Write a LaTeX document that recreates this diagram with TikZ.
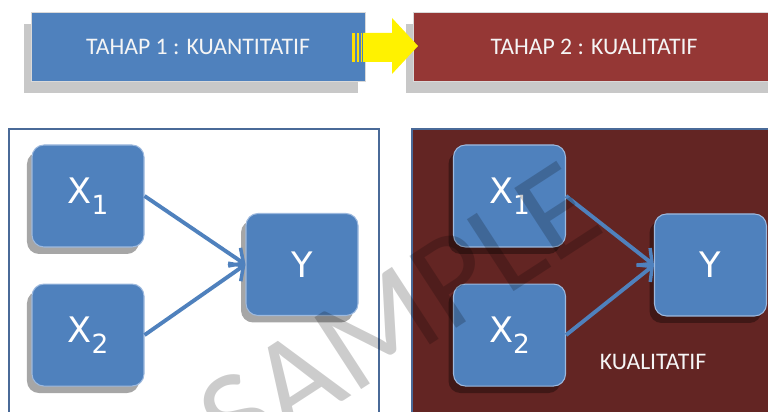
\documentclass[tikz,border=0pt]{standalone}
\usepackage{fontspec}
\setmainfont{Carlito}
\newfontfamily\labelfont{DejaVu Sans}
\usetikzlibrary{positioning}
\usetikzlibrary{shadows, arrows.meta}

\definecolor{boxblue}{HTML}{4F81BD}
\definecolor{boxedge}{HTML}{9DB9DE}
\definecolor{stagered}{HTML}{953735}
\definecolor{panelred}{HTML}{632523}
\definecolor{panelline}{HTML}{4A6A98}

\newcommand{\varsub}[1]{\raisebox{-0.3em}{\fontsize{15}{15}\selectfont #1}}

\tikzset{
  stagebox/.style={rectangle,minimum height=1.38cm,text=white!92!gray,font=\fontsize{13.5}{13.5}\selectfont,
    draw=white!70!gray,line width=0.4pt,drop shadow={shadow xshift=-0.14cm,shadow yshift=-0.24cm,opacity=0.3,fill=black!70}},
  varbox/.style={rectangle,rounded corners=0.24cm,fill=boxblue,draw=boxedge,line width=0.6pt,
    minimum width=2.24cm,minimum height=2.04cm,text=white,font=\labelfont\fontsize{20}{20}\selectfont,
    drop shadow={shadow xshift=-0.1cm,shadow yshift=-0.14cm,opacity=0.35,fill=black}},
  link/.style={boxblue,line width=2.2pt,-{Straight Barb[length=0.22cm,width=0.44cm,line width=2pt]}},
  panel/.style={draw=panelline,line width=1.1pt}
}

\begin{document}
\begin{tikzpicture}
\clip (0,0) rectangle (15.36,8.24);
\fill[white] (0,0) rectangle (15.36,8.24);

% two stages
\node[stagebox,fill=boxblue,minimum width=6.68cm] (tahap1) at (3.96,7.31) {TAHAP 1 : KUANTITATIF};
\node[stagebox,fill=stagered,minimum width=7.24cm] (tahap2) at (11.88,7.31) {TAHAP 2 : KUALITATIF};
\fill[yellow] (7.26,7.00) -- (7.84,7.00) -- (7.84,6.76) -- (8.36,7.32) -- (7.84,7.88) -- (7.84,7.58) -- (7.26,7.58) -- cycle;
\fill[yellow!80!orange] (7.04,7.00) rectangle (7.10,7.58);
\fill[yellow!80!orange] (7.14,7.00) rectangle (7.18,7.58);
\fill[yellow!80!orange] (7.21,7.00) rectangle (7.24,7.58);

% panels
\draw[panel,fill=white] (0.18,-0.2) rectangle (7.58,5.66);
\draw[panel,fill=panelred] (8.24,-0.2) rectangle (15.6,5.66);

% quantitative model
\node[varbox] (xa) at (1.76,4.32) {X\varsub{1}};
\node[varbox,below=0.72cm of xa] (xb) {X\varsub{2}};
\node[varbox] (ya) at (6.04,2.95) {Y};
\draw[link] (xa.east) -- (ya.west);
\draw[link] (xb.east) -- (ya.west);

% qualitative model
\node[varbox] (xc) at (10.19,4.32) {X\varsub{1}};
\node[varbox,below=0.72cm of xc] (xd) {X\varsub{2}};
\node[varbox] (yb) at (14.21,2.94) {Y};
\draw[link] (xc.east) -- (yb.west);
\draw[link] (xd.east) -- (yb.west);
\node[text=white!92!gray,font=\fontsize{13.5}{13.5}\selectfont] (kual) at (13.06,1.00) {KUALITATIF};

\node[rotate=33,text=black,text opacity=0.2,font=\fontsize{76}{76}\selectfont] (wm) at (7.98,1.95) {SAMPLE};
\end{tikzpicture}
\end{document}
